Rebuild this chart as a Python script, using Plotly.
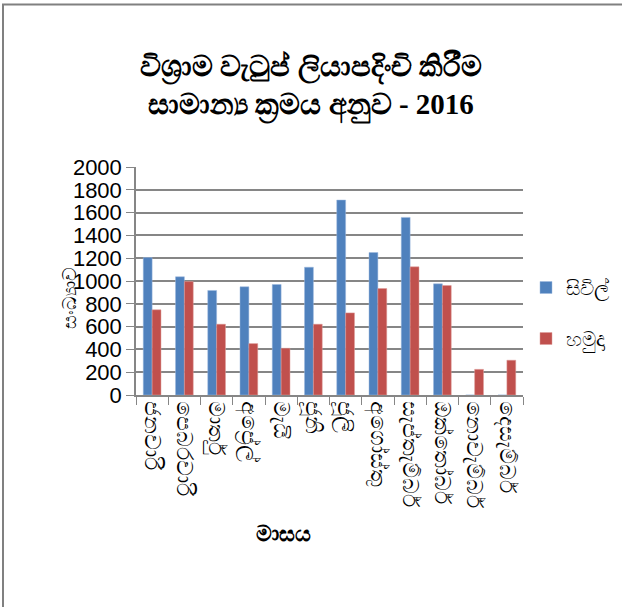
import plotly.graph_objects as go

months = ["ජනවාරි", "පෙබරවාරි", "මාර්තු", "අප්‍රේල්", "මැයි", "ජූනි",
          "ජූලි", "අගෝස්තු", "සැප්තැම්බර්", "ඔක්තෝබර්", "නොවැම්බර්", "දෙසැම්බර්"]
civil = [1206, 1037, 917, 949, 969, 1121, 1710, 1250, 1558, 975, 0, 0]
military = [747, 995, 621, 451, 410, 621, 720, 934, 1124, 960, 225, 305]
y_ticks = list(range(0, 2001, 200))

title_text = "විශ්‍රාම වැටුප් ලියාපදිංචි කිරීම<br>සාමාන්‍ය ක්‍රමය අනුව - 2016"
x_title = "මාසය"
y_title = "සංඛ්‍යාව"

L, R, T, B = 136, 99, 167, 212
W, H = 622, 607
pw, ph = W - L - R, H - T - B

def px(x):
    return (x - L) / pw

def py(y):
    return (H - B - y) / ph

fig = go.Figure()
fig.add_trace(go.Bar(x=months, y=civil, name="සිවිල්", marker_color="#4F81BD",
                     marker_line=dict(color="#9DB9DE", width=0.5), legendgroup="a"))
fig.add_trace(go.Bar(x=months, y=military, name="හමුදා", marker_color="#C0504D",
                     marker_line=dict(color="#DE9C9A", width=0.5), legendgroup="b"))

fig.update_layout(
    width=W, height=H,
    margin=dict(l=L, r=R, t=T, b=B, autoexpand=False),
    paper_bgcolor="white", plot_bgcolor="white",
    barmode="group", bargap=0.45, bargroupgap=0,
    font=dict(family="Liberation Sans", color="black"),
    title=dict(text=title_text, x=0.5, xanchor="center", y=1 - 76 / H, yanchor="middle",
               font=dict(family="Liberation Serif", size=29, color="black", weight="bold")),
    legend=dict(x=px(526), y=py(268), xanchor="left", yanchor="top",
                font=dict(size=20), tracegroupgap=22, itemwidth=30,
                traceorder="grouped"),
    xaxis=dict(type="category", tickangle=90, tickson="boundaries", ticks="outside",
               ticklen=8, tickcolor="#868686", showline=True, linecolor="#868686",
               linewidth=1.5, tickfont=dict(size=22), showgrid=False),
    yaxis=dict(range=[0, 2000], tickvals=y_ticks, ticks="outside", ticklen=8,
               tickcolor="#868686", showline=True, linecolor="#868686", linewidth=1.5,
               showgrid=True, gridcolor="#868686", gridwidth=1.5,
               tickfont=dict(size=22), zeroline=False),
    annotations=[
        dict(text=x_title, x=px(283), y=py(548), xref="paper", yref="paper",
             showarrow=False, font=dict(size=22, weight="bold")),
        dict(text=y_title, x=px(56), y=py(331), xref="paper", yref="paper",
             showarrow=False, textangle=-90, font=dict(size=19)),
    ],
    shapes=[
        dict(type="line", xref="paper", yref="paper", x0=px(3), x1=px(3),
             y0=py(4), y1=py(607), line=dict(color="#808080", width=2)),
        dict(type="line", xref="paper", yref="paper", x0=px(2), x1=px(622),
             y0=py(4.5), y1=py(4.5), line=dict(color="#808080", width=2)),
    ],
)

fig.write_html("out.html", config={"displayModeBar": False},
               post_script="document.body.style.margin='0';document.body.style.overflow='hidden';")
